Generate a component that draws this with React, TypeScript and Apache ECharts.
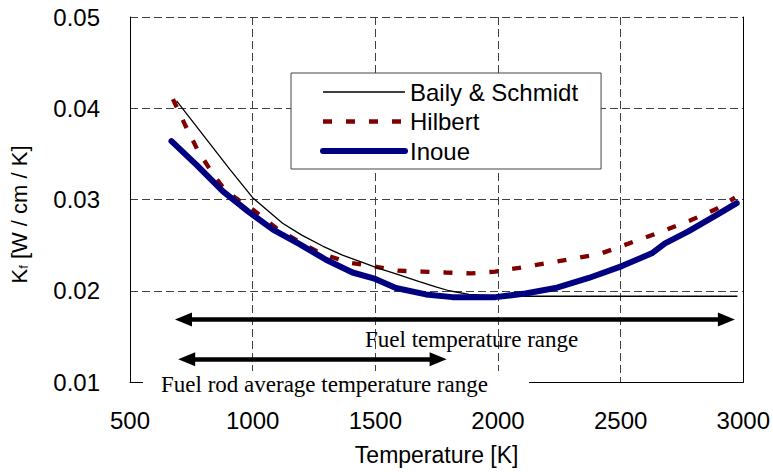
import React, { useEffect, useRef } from "react";
import * as echarts from "echarts";

// ---- data ----
const bailyT = [690, 800, 907, 1000, 1122, 1200, 1285, 1366, 1447, 1508, 1600, 1679, 1750, 1801, 1882, 2000, 2500, 2976];
const bailyK = [0.0408, 0.0370, 0.0333, 0.0302, 0.0274, 0.0261, 0.0249, 0.0239, 0.0231, 0.0225, 0.0217, 0.0210, 0.0204, 0.0200, 0.0196, 0.0194, 0.0194, 0.0194];

const hilbertT = [675, 724, 778, 843, 889, 950, 1000, 1100, 1200, 1279, 1388, 1489, 1591, 1692, 1787, 1889, 1988, 2085, 2194, 2302, 2411, 2505, 2587, 2688, 2783, 2885, 2966];
const hilbertK = [0.0410, 0.0382, 0.0353, 0.0326, 0.0310, 0.0298, 0.0289, 0.0268, 0.0252, 0.0241, 0.0231, 0.0227, 0.0222, 0.0221, 0.0220, 0.0219, 0.0221, 0.0225, 0.0230, 0.0235, 0.0240, 0.0249, 0.0257, 0.0267, 0.0277, 0.0289, 0.0302];

const inoueT = [669, 771, 879, 981, 1083, 1191, 1299, 1407, 1500, 1584, 1706, 1814, 1990, 2112, 2234, 2370, 2505, 2627, 2681, 2776, 2885, 2973];
const inoueK = [0.0364, 0.0338, 0.0309, 0.0287, 0.0267, 0.0251, 0.0234, 0.0220, 0.0213, 0.0203, 0.0196, 0.0193, 0.0193, 0.0197, 0.0203, 0.0214, 0.0227, 0.0241, 0.0252, 0.0265, 0.0282, 0.0296];

const seriesNames = ["Baily & Schmidt", "Hilbert", "Inoue"];

// ranges shown with double-headed arrows: [startT, endT] and their K level
const fuelRangeT = [718, 2931];
const fuelRangeK = 0.01685;
const rodRangeT = [731, 1756];
const rodRangeK = 0.01248;
const rangeLabels = ["Fuel temperature range", "Fuel rod average temperature range"];

const xMin = 500, xMax = 3000, xStep = 500;
const yMin = 0.01, yMax = 0.05, yStep = 0.01;

const zip = (a: number[], b: number[]) => a.map((v, i) => [v, b[i]]);

const SANS = "Liberation Sans, Arial, sans-serif";
const SERIF = "Liberation Serif, Times New Roman, serif";

export default function App() {
  const ref = useRef<HTMLDivElement>(null);
  useEffect(() => {
    if (!ref.current) return;
    const chart = echarts.init(ref.current, undefined, { renderer: "svg" });
    const gridColor = "#404040";
    const arrowLine = (t: number[], k: number) => [
      { coord: [t[0], k] },
      { coord: [t[1], k] },
    ];
    chart.setOption({
      animation: false,
      backgroundColor: "#fff",
      grid: { left: 130, top: 17, width: 615, height: 365 },
      legend: {
        orient: "vertical",
        left: 291,
        top: 73,
        padding: [7, 23, 6, 29],
        itemWidth: 82,
        itemHeight: 14,
        itemGap: 5.5,
        backgroundColor: "#fff",
        borderColor: "#444",
        borderWidth: 1,
        itemStyle: { opacity: 0 },
        lineStyle: { width: "inherit", type: "inherit", cap: "inherit" },
        textStyle: { fontSize: 24, fontFamily: SANS, color: "#000", lineHeight: 24 },
        data: seriesNames,
      },
      xAxis: {
        type: "value",
        min: xMin,
        max: xMax,
        interval: xStep,
        name: "Temperature [K]",
        nameLocation: "middle",
        nameGap: 61,
        nameTextStyle: { fontSize: 23, fontFamily: SANS, color: "#000" },
        axisLine: { show: true, onZero: false, lineStyle: { color: "#000", width: 1 } },
        axisTick: { show: false },
        axisLabel: { fontSize: 24, fontFamily: SANS, color: "#000", margin: 26, formatter: (v: number) => String(v) },
        splitLine: { show: true, lineStyle: { color: gridColor, type: [8, 4], width: 1 } },
      },
      yAxis: [
        {
          type: "value",
          min: yMin,
          max: yMax,
          interval: yStep,
          name: "{k|K}{f|f} [W / cm / K]",
          nameLocation: "middle",
          nameRotate: 90,
          nameGap: 100,
          nameTextStyle: {
            fontSize: 22,
            fontFamily: SANS,
            color: "#000",
            padding: [0, 30, 0, 0],
            rich: {
              k: { fontSize: 22, fontFamily: SANS, color: "#000" },
              f: { fontSize: 13, fontFamily: SANS, color: "#000", verticalAlign: "bottom", padding: [6, 0, 0, 0] },
            },
          },
          axisLine: { show: true, lineStyle: { color: "#000", width: 1 } },
          axisTick: { show: false },
          axisLabel: {
            fontSize: 24,
            fontFamily: SANS,
            color: "#000",
            margin: 30,
            formatter: (v: number) => v.toFixed(2),
          },
          splitLine: { show: true, lineStyle: { color: gridColor, type: [8, 4], width: 1 } },
        },
        {
          type: "value",
          position: "right",
          min: yMin,
          max: yMax,
          interval: yStep,
          axisLine: { show: true, lineStyle: { color: "#000", width: 1 } },
          axisTick: { show: false },
          axisLabel: { show: false },
          splitLine: { show: false },
        },
      ],
      series: [
        {
          name: seriesNames[0],
          type: "line",
          data: zip(bailyT, bailyK),
          symbol: "none",
          color: "#000",
          lineStyle: { color: "#000", width: 1.3 },
          z: 3,
        },
        {
          name: seriesNames[1],
          type: "line",
          data: zip(hilbertT, hilbertK),
          symbol: "none",
          color: "#800000",
          lineStyle: { color: "#800000", width: 4.3, type: [9, 14] },
          z: 2,
        },
        {
          name: seriesNames[2],
          type: "line",
          data: zip(inoueT, inoueK),
          symbol: "none",
          color: "#000080",
          lineStyle: { color: "#000080", width: 6, cap: "round", join: "round" },
          z: 4,
          markLine: {
            silent: true,
            symbol: ["triangle", "triangle"],
            symbolSize: [14, 17],
            label: { show: false },
            lineStyle: { color: "#000", width: 4.5, type: "solid", cap: "butt" },
            data: [arrowLine(fuelRangeT, fuelRangeK), arrowLine(rodRangeT, rodRangeK)],
          },
        },
      ],
      graphic: [
        {
          type: "rect",
          z: 100,
          shape: { x: 143, y: 371, width: 386, height: 28 },
          style: { fill: "#fff" },
        },
        {
          type: "text",
          z: 101,
          x: 365,
          y: 339,
          style: {
            text: rangeLabels[0],
            font: `23px ${SERIF}`,
            fill: "#000",
            align: "left",
            verticalAlign: "middle",
          },
        },
        {
          type: "text",
          z: 101,
          x: 161,
          y: 384,
          style: {
            text: rangeLabels[1],
            font: `23px ${SERIF}`,
            fill: "#000",
            align: "left",
            verticalAlign: "middle",
          },
        },
      ],
    });
    return () => chart.dispose();
  }, []);
  return (
    <div
      ref={ref}
      style={{ position: "fixed", left: 0, top: 0, width: 773, height: 472, background: "#fff" }}
    />
  );
}
